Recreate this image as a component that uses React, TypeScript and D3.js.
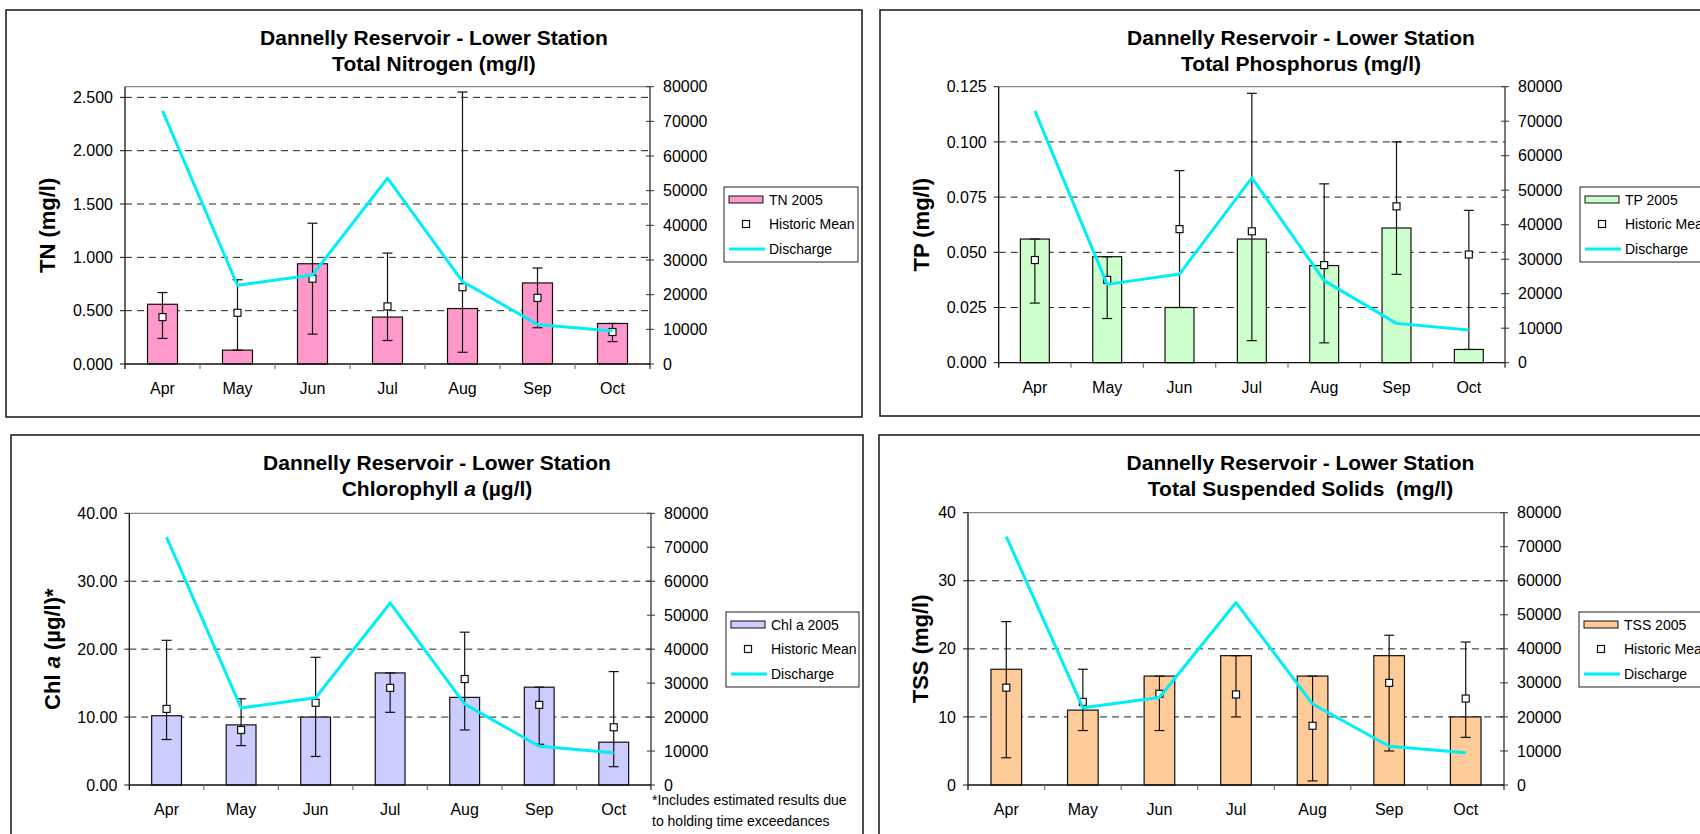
import React from 'react';
import { scaleBand, scaleLinear, scalePoint, line, range } from 'd3';

const FONT = '"Liberation Sans", Arial, sans-serif';

const months = ['Apr', 'May', 'Jun', 'Jul', 'Aug', 'Sep', 'Oct'];
const discharge = [73000, 22700, 25700, 53600, 23800, 11400, 9500];
const dischargeTicks = [0, 10000, 20000, 30000, 40000, 50000, 60000, 70000, 80000];

const tn2005 = [0.56, 0.13, 0.94, 0.44, 0.52, 0.76, 0.38];
const tnMean = [0.44, 0.48, 0.8, 0.54, 0.72, 0.62, 0.3];
const tnLow = [0.24, 0.13, 0.28, 0.22, 0.11, 0.34, 0.21];
const tnHigh = [0.67, 0.79, 1.32, 1.04, 2.55, 0.9, 0.38];
const tnTicks = [0, 0.5, 1, 1.5, 2, 2.5];

const tp2005 = [0.056, 0.048, 0.025, 0.056, 0.044, 0.061, 0.006];
const tpMean = [0.0465, 0.0375, 0.0605, 0.0595, 0.0442, 0.0708, 0.049];
const tpLow = [0.027, 0.02, 0.025, 0.01, 0.009, 0.04, 0.006];
const tpHigh = [0.056, 0.048, 0.087, 0.122, 0.081, 0.1, 0.069];
const tpTicks = [0, 0.025, 0.05, 0.075, 0.1, 0.125];

const chl2005 = [10.2, 8.85, 10.0, 16.5, 12.9, 14.4, 6.3];
const chlMean = [11.2, 8.1, 12.1, 14.3, 15.6, 11.8, 8.5];
const chlLow = [6.7, 5.8, 4.2, 10.7, 8.1, 6.0, 2.7];
const chlHigh = [21.3, 12.7, 18.8, 16.5, 22.5, 14.4, 16.7];
const chlTicks = [0, 10, 20, 30, 40];

const tss2005 = [17, 11, 16, 19, 16, 19, 10];
const tssMean = [14.3, 12.2, 13.4, 13.3, 8.7, 15.0, 12.7];
const tssLow = [4, 8, 8, 10, 0.6, 5, 7];
const tssHigh = [24, 17, 16, 19, 16, 22, 21];
const tssTicks = [0, 10, 20, 30, 40];

function Panel(p: any) {
  const { box, plot } = p;
  const x = scaleBand<string>().domain(months).range([plot.l, plot.r]).paddingInner(0.6).paddingOuter(0.3);
  const xc = scalePoint<string>().domain(months).range([plot.l, plot.r]).padding(0.5);
  const y = scaleLinear().domain([0, p.yMax]).range([plot.b, plot.t]);
  const y2 = scaleLinear().domain([0, 80000]).range([plot.b, plot.t]);
  const step = xc.step();
  const flow = line<number>().x((_, i) => xc(months[i])!).y(d => y2(d))(discharge);
  const cx = (box.x0 + box.x1) / 2;
  const lg = p.legend;

  return (
    <g fontFamily={FONT}>
      <rect x={box.x0} y={box.y0} width={box.x1 - box.x0} height={box.y1 - box.y0} fill="#fff" stroke="#222" strokeWidth={1.6} />
      <text x={cx} y={box.y0 + 35} textAnchor="middle" fontSize={21} fontWeight="bold">Dannelly Reservoir - Lower Station</text>
      <text x={cx} y={box.y0 + 61} textAnchor="middle" fontSize={21} fontWeight="bold" style={{ whiteSpace: 'pre' }}>{p.title2}</text>
      <text transform={`translate(${box.x0 + 49},${(plot.t + plot.b) / 2}) rotate(-90)`} textAnchor="middle" fontSize={22} fontWeight="bold">{p.yTitle}</text>

      {/* grid */}
      {p.ticks.filter((t: number) => t > 0 && y(t) > plot.t + 1).map((t: number) => (
        <line key={t} x1={plot.l} x2={plot.r} y1={y(t)} y2={y(t)} stroke="#222" strokeDasharray="7,5" />
      ))}
      <line x1={plot.l} x2={plot.r} y1={plot.t} y2={plot.t} stroke="#888" strokeWidth={1.2} />

      {/* bars */}
      {p.bars.map((v: number, i: number) => (
        <rect key={i} x={x(months[i])} y={y(v)} width={x.bandwidth()} height={plot.b - y(v)} fill={p.fill} stroke="#111" strokeWidth={1.2} />
      ))}

      {/* error bars + historic mean */}
      {p.mean.map((v: number, i: number) => {
        const c = xc(months[i])!;
        return (
          <g key={i} stroke="#111" strokeWidth={1.2}>
            <line x1={c} x2={c} y1={y(p.hi[i])} y2={y(p.lo[i])} />
            <line x1={c - 5} x2={c + 5} y1={y(p.hi[i])} y2={y(p.hi[i])} />
            <line x1={c - 5} x2={c + 5} y1={y(p.lo[i])} y2={y(p.lo[i])} />
            <rect x={c - 3.5} y={y(v) - 3.5} width={7} height={7} fill="#fff" />
          </g>
        );
      })}

      <path d={flow!} fill="none" stroke="#00eef6" strokeWidth={3} strokeLinejoin="round" />

      {/* axes */}
      <line x1={plot.l} x2={plot.l} y1={plot.t} y2={plot.b + 5} stroke="#111" strokeWidth={1.3} />
      <line x1={plot.r} x2={plot.r} y1={plot.t} y2={plot.b + 5} stroke="#333" strokeWidth={1.3} />
      <line x1={plot.l} x2={plot.r} y1={plot.b} y2={plot.b} stroke="#111" strokeWidth={1.3} />
      {range(1, 7).map(i => (
        <line key={i} x1={plot.l + i * step} x2={plot.l + i * step} y1={plot.b} y2={plot.b + 5} stroke="#777" strokeWidth={1.2} />
      ))}
      {p.ticks.map((t: number) => (
        <g key={t}>
          <line x1={plot.l - 5} x2={plot.l} y1={y(t)} y2={y(t)} stroke="#111" />
          <text x={plot.l - 12} y={y(t)} dy="0.35em" textAnchor="end" fontSize={16}>{p.fmt(t)}</text>
        </g>
      ))}
      {dischargeTicks.map(t => (
        <g key={t}>
          <line x1={plot.r - 4} x2={plot.r + 4} y1={y2(t)} y2={y2(t)} stroke="#333" />
          <text x={plot.r + 13} y={y2(t)} dy="0.35em" fontSize={16}>{t}</text>
        </g>
      ))}
      {months.map(m => (
        <text key={m} x={xc(m)} y={plot.b + 30} textAnchor="middle" fontSize={16}>{m}</text>
      ))}

      {/* legend */}
      <g fontSize={14}>
        <rect x={lg.x} y={lg.y} width={lg.w} height={75} fill="#fff" stroke="#222" />
        <rect x={lg.x + 5} y={lg.y + 9} width={34} height={7} fill={p.fill} stroke="#111" />
        <text x={lg.x + 45} y={lg.y + 13} dy="0.35em">{p.label}</text>
        <rect x={lg.x + 18.5} y={lg.y + 33.5} width={7} height={7} fill="#fff" stroke="#111" strokeWidth={1.2} />
        <text x={lg.x + 45} y={lg.y + 37} dy="0.35em">Historic Mean</text>
        <line x1={lg.x + 5} x2={lg.x + 41} y1={lg.y + 62} y2={lg.y + 62} stroke="#00eef6" strokeWidth={3} />
        <text x={lg.x + 45} y={lg.y + 62} dy="0.35em">Discharge</text>
      </g>

      {p.note && (
        <g fontSize={14}>
          <text x={plot.r + 1} y={805}>*Includes estimated results due</text>
          <text x={plot.r + 1} y={826}>to holding time exceedances</text>
        </g>
      )}
    </g>
  );
}

const panels = [
  {
    box: { x0: 6, y0: 10, x1: 862, y1: 417 },
    plot: { l: 125, r: 650, t: 86.7, b: 364 },
    title2: 'Total Nitrogen (mg/l)',
    yTitle: 'TN (mg/l)',
    yMax: 2.6, ticks: tnTicks, fmt: (t: number) => t.toFixed(3),
    bars: tn2005, mean: tnMean, lo: tnLow, hi: tnHigh,
    fill: '#ff99cc', label: 'TN 2005',
    legend: { x: 724, y: 187, w: 134 },
  },
  {
    box: { x0: 880, y0: 10, x1: 1722, y1: 416 },
    plot: { l: 998.7, r: 1505, t: 86.7, b: 362.7 },
    title2: 'Total Phosphorus (mg/l)',
    yTitle: 'TP (mg/l)',
    yMax: 0.125, ticks: tpTicks, fmt: (t: number) => t.toFixed(3),
    bars: tp2005, mean: tpMean, lo: tpLow, hi: tpHigh,
    fill: '#ccffcc', label: 'TP 2005',
    legend: { x: 1580, y: 187, w: 134 },
  },
  {
    box: { x0: 11, y0: 435, x1: 863, y1: 860 },
    plot: { l: 129.3, r: 651, t: 513.3, b: 785 },
    title2: <>Chlorophyll <tspan fontStyle="italic">a</tspan> (µg/l)</>,
    yTitle: <>Chl <tspan fontStyle="italic">a</tspan> (µg/l)*</>,
    yMax: 40, ticks: chlTicks, fmt: (t: number) => t.toFixed(2),
    bars: chl2005, mean: chlMean, lo: chlLow, hi: chlHigh,
    fill: '#ccccff', label: 'Chl a 2005',
    legend: { x: 726, y: 612, w: 133 },
    note: true,
  },
  {
    box: { x0: 879, y0: 435, x1: 1722, y1: 860 },
    plot: { l: 968, r: 1504, t: 512.7, b: 785 },
    title2: 'Total Suspended Solids  (mg/l)',
    yTitle: 'TSS (mg/l)',
    yMax: 40, ticks: tssTicks, fmt: (t: number) => String(t),
    bars: tss2005, mean: tssMean, lo: tssLow, hi: tssHigh,
    fill: '#ffcc99', label: 'TSS 2005',
    legend: { x: 1579, y: 612, w: 134 },
  },
];

export default function App() {
  return (
    <svg width={1700} height={834} style={{ position: 'absolute', left: 0, top: 0, background: '#fff' }}>
      <rect width={1700} height={834} fill="#fff" />
      {panels.map((p, i) => <Panel key={i} {...p} />)}
    </svg>
  );
}
